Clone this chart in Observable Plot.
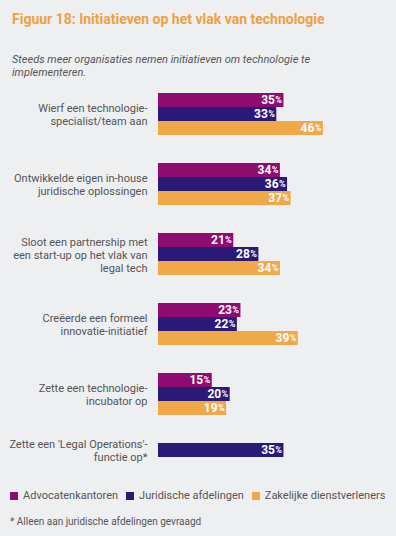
<!DOCTYPE html>
<html><head><meta charset="utf-8">
<script src="https://cdn.jsdelivr.net/npm/d3@7"></script>
<script src="https://cdn.jsdelivr.net/npm/@observablehq/plot@0.6"></script>
<style>
html,body{margin:0;padding:0;}
body{background:#eeeff1;width:396px;height:536px;overflow:hidden;position:relative;font-family:Roboto,"Noto Sans",sans-serif;}
#title{position:absolute;left:12px;top:9px;font-weight:bold;font-size:14px;line-height:20px;color:#f0a040;white-space:nowrap;}
#subtitle{position:absolute;left:12px;top:53px;font-style:italic;font-size:11px;line-height:13px;color:#555;width:330px;}
#chart{position:absolute;left:0;top:80px;}
#legend{position:absolute;left:10px;top:489px;display:flex;font-size:11px;line-height:14px;color:#555;white-space:nowrap;}
#legend .item{display:flex;align-items:center;margin-right:8px;}
#legend .sw{width:8px;height:8px;margin-right:5px;}
#foot{position:absolute;left:10px;top:515px;font-size:10px;line-height:14px;color:#555;}
</style></head>
<body>
<div id="title">Figuur 18: Initiatieven op het vlak van technologie</div>
<div id="subtitle">Steeds meer organisaties nemen initiatieven om technologie te implementeren.</div>
<div id="chart"></div>
<div id="legend"></div>
<div id="foot">* Alleen aan juridische afdelingen gevraagd</div>
<script>
const categories = [
  "Wierf een technologie-\nspecialist/team aan",
  "Ontwikkelde eigen in-house\njuridische oplossingen",
  "Sloot een partnership met\neen start-up op het vlak van\nlegal tech",
  "Creëerde een formeel\ninnovatie-initiatief",
  "Zette een technologie-\nincubator op",
  "Zette een 'Legal Operations'-\nfunctie op*"
];
const series = ["Advocatenkantoren", "Juridische afdelingen", "Zakelijke dienstverleners"];
const advocatenkantoren = [35, 34, 21, 23, 15, null];
const juridischeAfdelingen = [33, 36, 28, 22, 20, 35];
const zakelijkeDienstverleners = [46, 37, 34, 39, 19, null];
const colors = ["#8e0c6f", "#2a1a78", "#f0a848"];

const valuesBySeries = [advocatenkantoren, juridischeAfdelingen, zakelijkeDienstverleners];
const rows = [];
const rowDomain = [];
const tickKeys = [];
const labelOf = {};
categories.forEach((cat, i) => {
  const keys = [];
  series.forEach((s, j) => {
    const v = valuesBySeries[j][i];
    if (v == null) return;
    const key = i + "|" + j;
    keys.push(key);
    rows.push({key, category: cat, series: s, value: v});
  });
  rowDomain.push(...keys);
  const mid = keys[Math.floor((keys.length - 1) / 2)];
  tickKeys.push(mid);
  labelOf[mid] = cat;
  if (i < categories.length - 1) rowDomain.push("gap" + i + "a", "gap" + i + "b");
});

const chart = Plot.plot({
  width: 396,
  height: 390,
  marginLeft: 158,
  marginRight: 5,
  marginTop: 7,
  marginBottom: 7,
  style: {background: "transparent", fontFamily: "Roboto, 'Noto Sans', sans-serif", fontSize: "11px", color: "#555"},
  x: {domain: [0, 65], axis: null},
  y: {type: "band", domain: rowDomain, padding: 0, axis: null, label: null},
  color: {domain: series, range: colors},
  marks: [
    Plot.barX(rows, {x: "value", y: "key", fill: "series"}),
    Plot.text(rows, {x: "value", y: "key", text: d => String(d.value), dx: -9, textAnchor: "end", fill: "white", fontSize: 12, fontWeight: "bold"}),
    Plot.text(rows, {x: "value", y: "key", text: () => "%", dx: -2, textAnchor: "end", fill: "white", fontSize: 9, fontWeight: "bold"}),
    Plot.axisY(tickKeys, {tickFormat: k => labelOf[k], tickSize: 0, tickPadding: 11, fontSize: 11, lineHeight: 1.18, fill: "#555", label: null})
  ]
});
document.getElementById("chart").appendChild(chart);

const legend = document.getElementById("legend");
series.forEach((s, j) => {
  const item = document.createElement("div");
  item.className = "item";
  const sw = document.createElement("span");
  sw.className = "sw";
  sw.style.background = colors[j];
  const lab = document.createElement("span");
  lab.textContent = s;
  item.append(sw, lab);
  legend.appendChild(item);
});
</script>
</body></html>
